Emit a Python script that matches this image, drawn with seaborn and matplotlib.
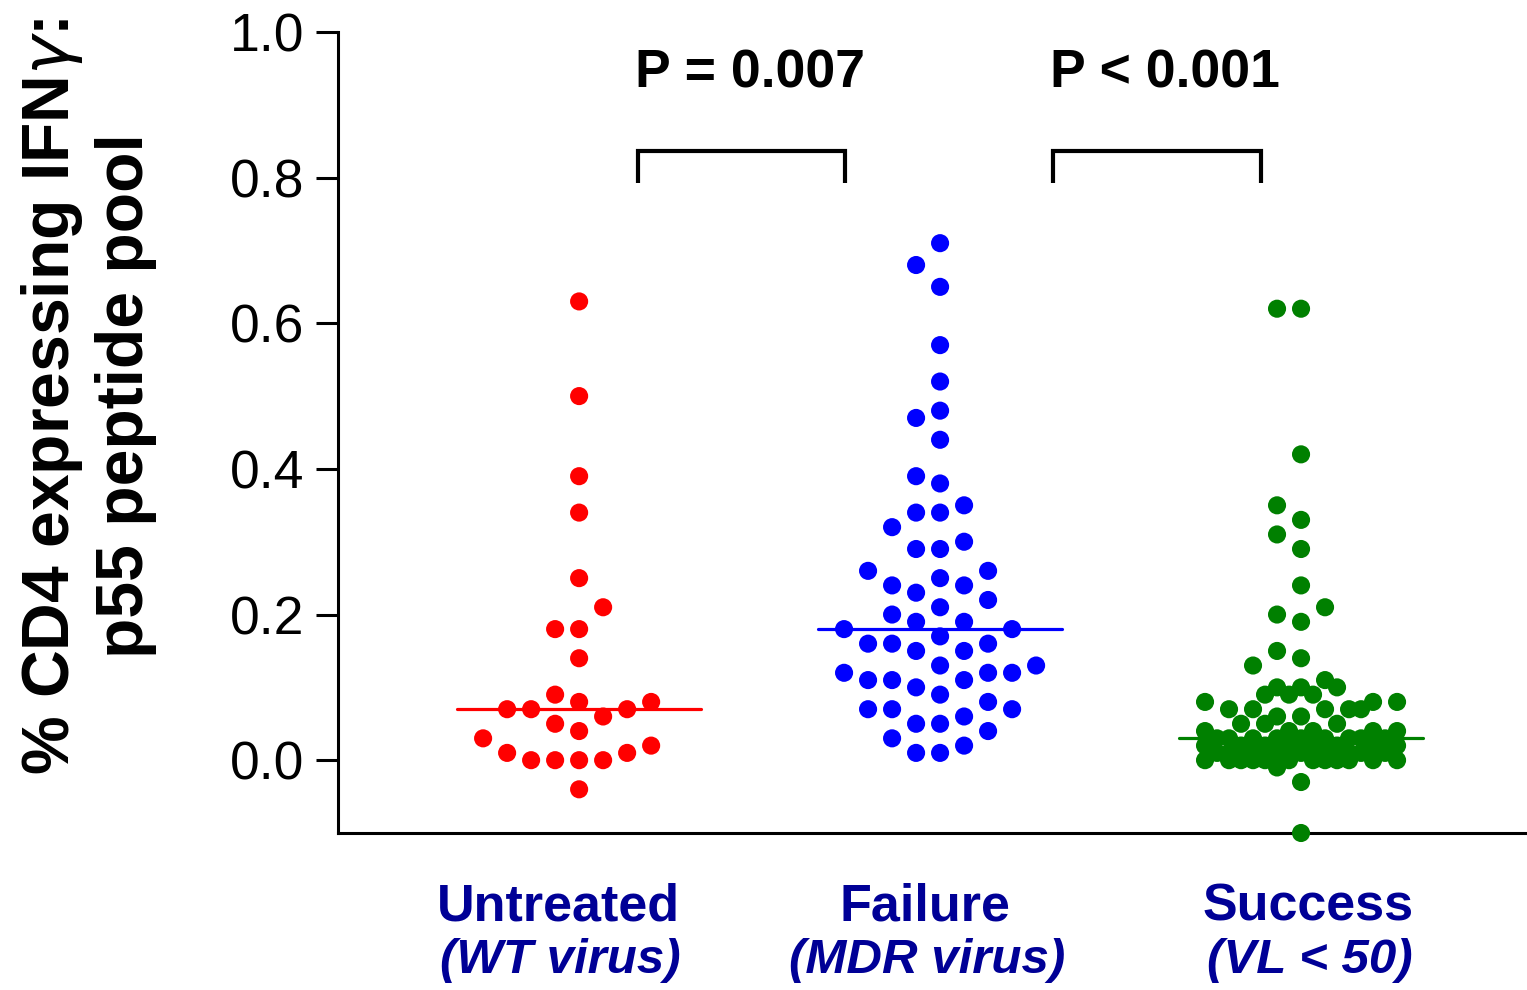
import numpy as np
import pandas as pd
import matplotlib
matplotlib.use("Agg")
import matplotlib.pyplot as plt
import seaborn as sns

# % CD4 T cells expressing IFN-gamma after p55 peptide pool stimulation
untreated = [0.63, 0.50, 0.39, 0.34, 0.25, 0.21, 0.18, 0.18, 0.14, 0.09,
             0.08, 0.08, 0.07, 0.07, 0.07, 0.06, 0.05, 0.04, 0.03, 0.02,
             0.01, 0.01, 0.00, 0.00, 0.00, 0.00, -0.04]

failure = [0.71, 0.68, 0.65, 0.57, 0.52, 0.48, 0.47, 0.44, 0.39, 0.38,
           0.35, 0.34, 0.34, 0.32, 0.30, 0.29, 0.29, 0.26, 0.26, 0.25,
           0.24, 0.24, 0.23, 0.22, 0.21, 0.20, 0.19, 0.19, 0.18, 0.18,
           0.17, 0.16, 0.16, 0.16, 0.15, 0.15, 0.13, 0.13, 0.12, 0.12,
           0.12, 0.11, 0.11, 0.11, 0.10, 0.09, 0.08, 0.07, 0.07, 0.07,
           0.06, 0.05, 0.05, 0.04, 0.03, 0.02, 0.01, 0.01]

success = [0.62, 0.62, 0.42, 0.35, 0.33, 0.31, 0.29, 0.24, 0.21, 0.20,
           0.19, 0.15, 0.14, 0.13, 0.11, 0.10, 0.10, 0.10, 0.09, 0.09,
           0.09, 0.08, 0.08, 0.08, 0.07, 0.07, 0.07, 0.07, 0.07, 0.06,
           0.06, 0.05, 0.05, 0.05, 0.04, 0.04, 0.04, 0.04, 0.04,
           0.03, 0.03, 0.03, 0.03, 0.03, 0.03, 0.03, 0.03, 0.03,
           0.02, 0.02, 0.02, 0.02, 0.02, 0.02, 0.02, 0.02, 0.02,
           0.01, 0.01, 0.01, 0.01, 0.01, 0.01, 0.01, 0.01, 0.01,
           0.00, 0.00, 0.00, 0.00, 0.00, 0.00, 0.00, 0.00, 0.00, 0.00,
           0.00, 0.00, -0.01, -0.03, -0.10]

groups = ["Untreated", "Failure", "Success"]
subtitles = ["(WT virus)", "(MDR virus)", "(VL < 50)"]
colors = ["#FF0000", "#0000FF", "#008000"]
p_labels = ["P = 0.007", "P < 0.001"]
yticks = [0.0, 0.2, 0.4, 0.6, 0.8, 1.0]


def column_scatter_offsets(values, step, min_gap, max_col=4):
    """Column-scatter layout: sorted points take the nearest free column."""
    values = np.asarray(values, dtype=float)
    cols = [0]
    for k in range(1, max_col + 1):
        cols += [-k, k]
    halves = []
    for k in range(1, max_col + 1):
        halves += [-(k - 0.5), k - 0.5]
    candidates = cols + halves
    placed = {}
    offsets = np.zeros(len(values))
    for i in np.argsort(values, kind="stable"):
        v = values[i]
        chosen = None
        for c in candidates:
            if all(abs(v - y) >= min_gap - 1e-9 for y in placed.get(c, [])):
                chosen = c
                break
        if chosen is None:
            chosen = max(candidates,
                         key=lambda c: min(abs(v - y) for y in placed.get(c, [np.inf])))
        placed.setdefault(chosen, []).append(v)
        offsets[i] = chosen * step
    return offsets


STEP = 0.0665
rows = []
for gi, (name, vals) in enumerate(zip(groups, [untreated, failure, success])):
    offs = column_scatter_offsets(vals, STEP, 0.035)
    for v, o in zip(vals, offs):
        rows.append({"group": name, "x": gi + o, "value": v})
df = pd.DataFrame(rows)

sns.set_style("ticks")
plt.rcParams["font.family"] = ["Liberation Sans", "DejaVu Sans"]
plt.rcParams["mathtext.fontset"] = "dejavusans"

fig = plt.figure(figsize=(15.27, 9.9), dpi=100)
ax = fig.add_axes([338 / 1527, 157 / 990, 1189 / 1527, 801 / 990])

sns.scatterplot(data=df, x="x", y="value", hue="group", palette=colors,
                hue_order=groups, s=170, linewidth=0, legend=False, ax=ax,
                zorder=3, clip_on=False)

# median lines
for gi, (vals, col) in enumerate(zip([untreated, failure, success], colors)):
    med = np.median(vals)
    ax.plot([gi - 0.338, gi + 0.338], [med, med], color=col, lw=2.3,
            solid_capstyle="round", zorder=4)

ax.set_xlim(-0.668, 2.626)
ax.set_ylim(-0.1, 1.0)
ax.set_yticks(yticks)
ax.set_yticklabels([f"{t:.1f}" for t in yticks], fontsize=38.5)
ax.set_xticks([])
ax.set_xlabel("")
ax.set_ylabel("")
ax.tick_params(axis="y", length=16, width=2.2, pad=8, color="black",
               labelcolor="black")
for side in ["top", "right"]:
    ax.spines[side].set_visible(False)
for side in ["left", "bottom"]:
    ax.spines[side].set_linewidth(2.2)
    ax.spines[side].set_color("black")

# significance brackets
brackets = [(0.163, 0.737), (1.313, 1.889)]
p_x = [0.474, 1.623]
for (x0, x1), lab, px in zip(brackets, p_labels, p_x):
    ax.plot([x0, x0, x1, x1], [0.793, 0.8365, 0.8365, 0.793], color="black",
            lw=3.0, solid_joinstyle="miter", solid_capstyle="butt",
            clip_on=False)
    ax.text(px, 0.924, lab, ha="center", va="baseline",
            fontsize=38.5, fontweight="bold", color="black")

# group labels
navy = "#000096"
label_tf = matplotlib.transforms.blended_transform_factory(ax.transData,
                                                           fig.transFigure)
label_shift = [-0.058, -0.042, 0.019]
for gi, (name, sub) in enumerate(zip(groups, subtitles)):
    ax.text(gi + label_shift[gi], 0.0707, name, transform=label_tf,
            ha="center", va="baseline", fontsize=37.5, fontweight="bold",
            color=navy)
    ax.text(gi + label_shift[gi] + 0.006, 0.0172, sub, transform=label_tf,
            ha="center", va="baseline", fontsize=35.5, fontweight="bold",
            fontstyle="italic", color=navy)

fig.text(0.0576, 0.60, "% CD4 expressing IFN$\\gamma$:\np55 peptide pool",
         rotation=90, ha="center", va="center", multialignment="center",
         fontsize=47.5, fontweight="bold", color="black", linespacing=1.2)

fig.savefig("out.png", dpi=100, facecolor="white")
